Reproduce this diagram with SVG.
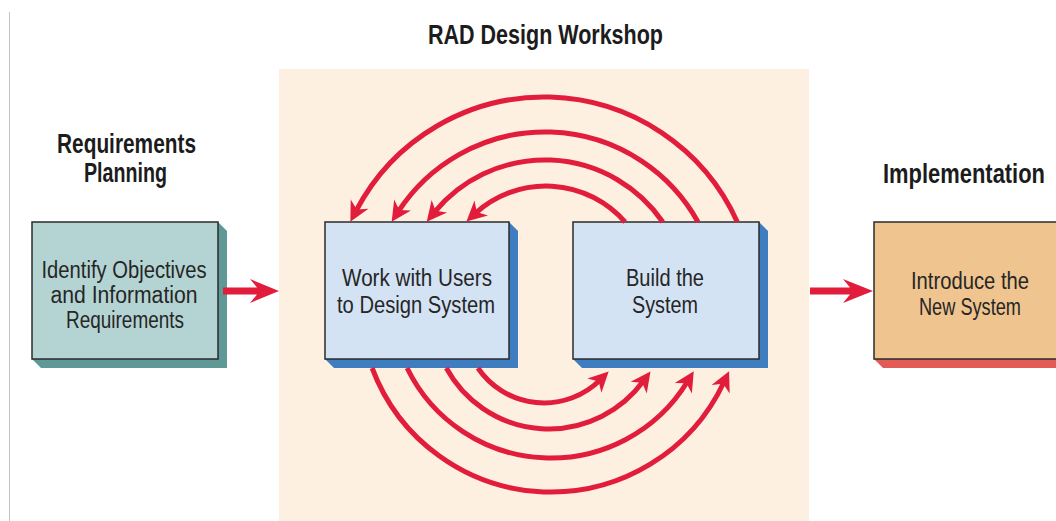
<svg xmlns="http://www.w3.org/2000/svg" width="1056" height="521" viewBox="0 0 1056 521">
  <style>
    .hdr { font-family: "Liberation Sans", Arial, sans-serif; font-weight: bold; font-size: 27px; fill: #1c1c1c; text-anchor: middle; }
    .lbl { font-family: "Liberation Sans", Arial, sans-serif; font-size: 23px; fill: #262626; text-anchor: middle; }
    .box { stroke: #2b2b2b; stroke-width: 1.5; }
    .arc { fill: none; stroke: #e21d3c; stroke-width: 5; marker-end: url(#ah); }
    .straight { fill: #e21d3c; }
  </style>
  <defs>
    <marker id="ah" markerUnits="userSpaceOnUse" markerWidth="22" markerHeight="22" refX="8" refY="10" orient="auto" overflow="visible">
      <path d="M0,0 L20,10 L0,20 L6,10 Z" fill="#e21d3c"/>
    </marker>
  </defs>

  <rect x="0" y="0" width="1056" height="521" fill="#ffffff"/>
  <line x1="9.5" y1="12" x2="9.5" y2="521" stroke="#c4c4c4" stroke-width="1"/>

  <g id="workshop-panel">
    <rect x="279" y="69" width="530" height="452" fill="#fdf0e1"/>
  </g>

  <g id="titles">
    <text class="hdr" x="545.5" y="44" font-size="28" textLength="235" lengthAdjust="spacingAndGlyphs">RAD Design Workshop</text>
    <text class="hdr" x="126.5" y="153" textLength="139" lengthAdjust="spacingAndGlyphs">Requirements</text>
    <text class="hdr" x="125.5" y="182" textLength="83" lengthAdjust="spacingAndGlyphs">Planning</text>
    <text class="hdr" x="964" y="183" font-size="24" textLength="162" lengthAdjust="spacingAndGlyphs">Implementation</text>
  </g>

  <g id="node-identify">
    <polygon points="218,222 227,231 227,368 41,368 32,359" fill="#5e9997"/>
    <rect class="box" x="32" y="222" width="186" height="137" fill="#b4d4d3"/>
    <text class="lbl" x="124" y="278" font-size="24" textLength="165" lengthAdjust="spacingAndGlyphs">Identify Objectives</text>
    <text class="lbl" x="124" y="303" font-size="24" textLength="147" lengthAdjust="spacingAndGlyphs">and Information</text>
    <text class="lbl" x="125" y="328" font-size="24" textLength="118" lengthAdjust="spacingAndGlyphs">Requirements</text>
  </g>

  <g id="node-design">
    <polygon points="509,222 518,231 518,368 334,368 325,359" fill="#3d7dc0"/>
    <rect class="box" x="325" y="222" width="184" height="137" fill="#d4e3f4"/>
    <text class="lbl" x="417" y="286" textLength="150" lengthAdjust="spacingAndGlyphs">Work with Users</text>
    <text class="lbl" x="416" y="313" textLength="158" lengthAdjust="spacingAndGlyphs">to Design System</text>
  </g>

  <g id="node-build">
    <polygon points="759,222 768,231 768,368 582,368 573,359" fill="#3d7dc0"/>
    <rect class="box" x="573" y="222" width="186" height="137" fill="#d4e3f4"/>
    <text class="lbl" x="665" y="286" textLength="78" lengthAdjust="spacingAndGlyphs">Build the</text>
    <text class="lbl" x="665" y="313" textLength="66" lengthAdjust="spacingAndGlyphs">System</text>
  </g>

  <g id="node-introduce">
    <polygon points="1066,222 1075,231 1075,368 883,368 874,359" fill="#e35b57"/>
    <rect class="box" x="874" y="222" width="192" height="137" fill="#efc48f"/>
    <text class="lbl" x="970" y="289" textLength="118" lengthAdjust="spacingAndGlyphs">Introduce the</text>
    <text class="lbl" x="970" y="315" textLength="102" lengthAdjust="spacingAndGlyphs">New System</text>
  </g>

  <g id="connectors">
    <path class="straight" d="M223,287.5 H257 L250,279 L279,291 L250,303 L257,294.5 H223 Z"/>
    <path class="straight" d="M810,287.5 H850 L843,279 L873,291 L843,303 L850,294.5 H810 Z"/>

    <path class="arc" d="M737.3,222 A212,212 0 0 0 355.9,211.2"/>
    <path class="arc" d="M698,222 A175,175 0 0 0 398.2,211.7"/>
    <path class="arc" d="M662.8,222 A143,143 0 0 0 434.3,212.4"/>
    <path class="arc" d="M625.1,222 A105,105 0 0 0 475.3,213.4"/>

    <path class="arc" d="M477.9,368 A80,80 0 0 0 600.1,380"/>
    <path class="arc" d="M446.3,368 A117,117 0 0 0 643.4,381.1"/>
    <path class="arc" d="M407.1,368 A160,160 0 0 0 687.5,381.5"/>
    <path class="arc" d="M372.1,368 A191,191 0 0 0 724,382"/>
  </g>
</svg>
